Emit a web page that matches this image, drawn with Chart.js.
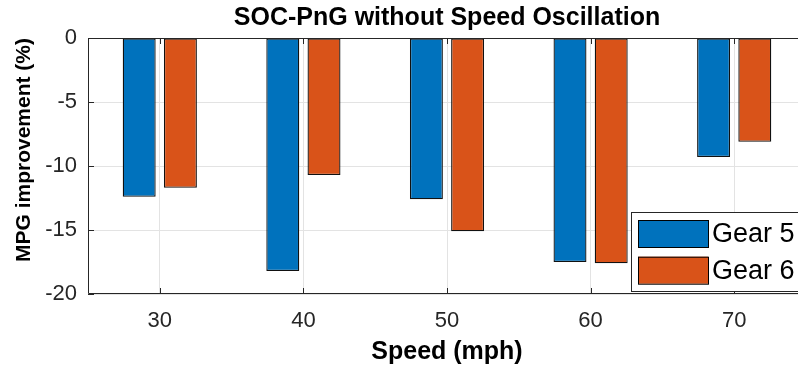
<!DOCTYPE html>
<html>
<head>
<meta charset="utf-8">
<script src="https://cdn.jsdelivr.net/npm/chart.js@4.4.1/dist/chart.umd.min.js"></script>
<style>
html,body{margin:0;padding:0;background:#fff;overflow:hidden;width:798px;height:372px;}
#wrap{width:808px;height:372px;}
</style>
</head>
<body>
<div id="wrap"><canvas id="c" width="808" height="372"></canvas></div>
<script>
const categories = ['30', '40', '50', '60', '70'];
const gear5 = [-12.4, -18.2, -12.6, -17.5, -9.3];
const gear6 = [-11.7, -10.7, -15.1, -17.6, -8.1];
const seriesNames = ['Gear 5', 'Gear 6'];
const yTicks = [0, -5, -10, -15, -20];
const titleText = 'SOC-PnG without Speed Oscillation';
const xTitle = 'Speed (mph)';
const yTitle = 'MPG improvement (%)';

const AXIS = '#262626';
const FONT = "'Liberation Sans', Arial, Helvetica, sans-serif";

const framePlugin = {
  id: 'frame',
  afterDraw(chart) {
    const {ctx, chartArea: a, scales} = chart;
    ctx.save();
    ctx.strokeStyle = AXIS;
    ctx.lineWidth = 1;
    ctx.beginPath();
    ctx.rect(a.left + 0.5, a.top + 0.5, a.right - a.left - 1, a.bottom - a.top - 1);
    ctx.stroke();
    const tl = 6;
    ctx.beginPath();
    scales.x.ticks.forEach((t, i) => {
      const x = Math.round(scales.x.getPixelForTick(i)) + 0.5;
      ctx.moveTo(x, a.bottom); ctx.lineTo(x, a.bottom - tl);
      ctx.moveTo(x, a.top); ctx.lineTo(x, a.top + tl);
    });
    scales.y.ticks.forEach((t, i) => {
      const y = Math.round(scales.y.getPixelForTick(i)) + 0.5;
      ctx.moveTo(a.left, y); ctx.lineTo(a.left + tl, y);
      ctx.moveTo(a.right, y); ctx.lineTo(a.right - tl, y);
    });
    ctx.stroke();

    // y axis title
    ctx.fillStyle = '#000';
    ctx.font = "bold 21px " + FONT;
    ctx.textAlign = 'center';
    ctx.textBaseline = 'middle';
    ctx.translate(24, 150);
    ctx.rotate(-Math.PI / 2);
    ctx.fillText(yTitle, 0, 0);
    ctx.restore();

    // legend
    ctx.save();
    const lx = 631, ly = 212, lw = 180, lh = 79;
    ctx.fillStyle = '#fff';
    ctx.fillRect(lx, ly, lw, lh);
    ctx.strokeStyle = AXIS;
    ctx.strokeRect(lx + 0.5, ly + 0.5, lw, lh);
    ctx.font = "27px " + FONT;
    ctx.textAlign = 'left';
    ctx.textBaseline = 'middle';
    chart.data.datasets.forEach((ds, i) => {
      const sy = 220 + i * 36.7;
      ctx.fillStyle = ds.backgroundColor;
      ctx.fillRect(638, sy, 70, 27);
      ctx.strokeStyle = '#000';
      ctx.strokeRect(638.5, sy + 0.5, 70, 27);
      ctx.fillStyle = '#000';
      ctx.fillText(ds.label, 712, sy + 14.5);
    });
    ctx.restore();
  }
};

new Chart(document.getElementById('c'), {
  type: 'bar',
  data: {
    labels: categories,
    datasets: [
      { label: seriesNames[0], data: gear5, backgroundColor: '#0072BD', borderColor: '#111', borderWidth: 1.3, borderSkipped: false },
      { label: seriesNames[1], data: gear6, backgroundColor: '#D95319', borderColor: '#111', borderWidth: 1.3, borderSkipped: false }
    ]
  },
  options: {
    responsive: false,
    animation: false,
    devicePixelRatio: 1,
    categoryPercentage: 0.574,
    barPercentage: 0.8,
    layout: { padding: { left: 0, right: 2, top: 0, bottom: 0 } },
    plugins: {
      legend: { display: false },
      tooltip: { enabled: false },
      title: {
        display: true,
        text: titleText,
        fullSize: false,
        color: '#000',
        font: { family: FONT, size: 25, weight: 'bold', lineHeight: 1.2 },
        padding: { top: 3.5, bottom: 4.5 }
      }
    },
    scales: {
      x: {
        offset: true,
        grid: { offset: false, color: '#e3e3e3', drawTicks: false },
        border: { display: false },
        ticks: { color: '#262626', padding: 14, font: { family: FONT, size: 22 } },
        title: { display: true, text: xTitle, color: '#000', font: { family: FONT, size: 25, weight: 'bold', lineHeight: 1.2 }, padding: { top: 0, bottom: 5 } },
        afterFit(s) { s.height = 78; }
      },
      y: {
        min: -20, max: 0,
        grid: { color: '#e3e3e3', drawTicks: false },
        border: { display: false },
        afterBuildTicks(s) { s.ticks = yTicks.map(v => ({ value: v })); },
        ticks: { color: '#262626', padding: 11, font: { family: FONT, size: 22 }, callback: v => String(v) },
        title: { display: false },
        afterFit(s) { s.width = 88; }
      }
    }
  },
  plugins: [framePlugin]
});
</script>
</body>
</html>
